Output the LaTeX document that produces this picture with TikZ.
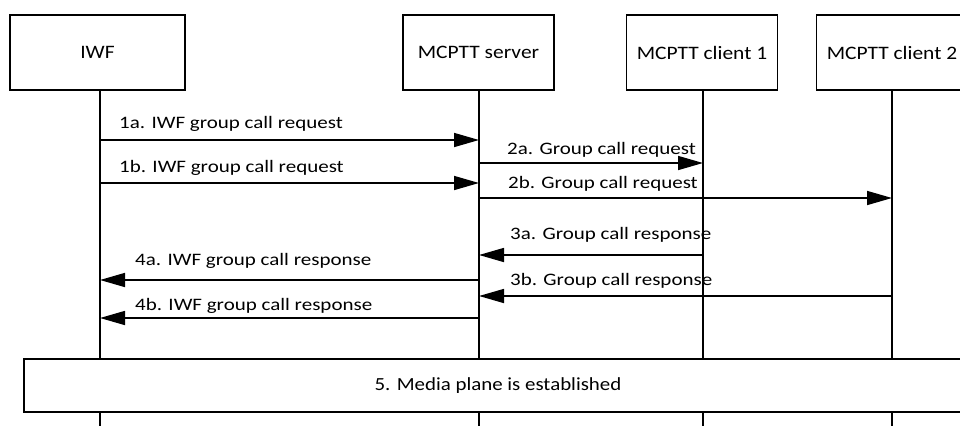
\documentclass[tikz,border=0pt]{standalone}
\usepackage{fontspec}
\setmainfont{Carlito}
\newfontfamily\lblfont[FakeStretch=1.2]{Carlito}
\newfontfamily\boxfont[FakeStretch=1.13]{Carlito}
\usetikzlibrary{arrows.meta}
\tikzset{
  entity/.style={draw, line width=1.3pt, minimum width=151pt, minimum height=75pt, inner sep=0pt, font=\boxfont\fontsize{19}{21}\selectfont},
  life/.style={line width=1.3pt},
  msg/.style={line width=1.6pt, -{Triangle[length=25pt,width=14pt]}},
  lbl/.style={inner sep=0pt, font=\lblfont\fontsize{17.5}{19}\selectfont},
  bar/.style={draw, line width=1.3pt, minimum height=53pt, inner sep=0pt, font=\boxfont\fontsize{18.5}{20}\selectfont}
}
\begin{document}
\begin{tikzpicture}[x=1pt,y=-1pt]
\useasboundingbox (0,0) rectangle (960,426);
\clip (0,0) rectangle (960,426);
% entities
\node[entity, minimum width=175pt] (iwf) at (97.5,52.5) {IWF};
\node[entity] (srv) at (478.5,52.5) {MCPTT server};
\node[entity] (c1) at (702,52.5) {MCPTT client 1};
\node[entity] (c2) at (892,52.5) {MCPTT client 2};
% lifeline ends
\coordinate (iwfE) at (100,426);
\coordinate (srvE) at (479,426);
\coordinate (c1E) at (703,426);
\coordinate (c2E) at (892,426);
\draw[life] (iwfE |- iwf.south) -- (iwfE);
\draw[life] (srvE |- srv.south) -- (srvE);
\draw[life] (c1E |- c1.south) -- (c1E);
\draw[life] (c2E |- c2.south) -- (c2E);
% media bar
\node[bar, minimum width=948pt, fill=white] (media) at (498,385.5) {5. Media plane is established};
% message points
\coordinate (m1aS) at (100,140); \coordinate (m1aE) at (479,140);
\coordinate (m1bS) at (100,183); \coordinate (m1bE) at (479,183);
\coordinate (m2aS) at (479,163); \coordinate (m2aE) at (703,163);
\coordinate (m2bS) at (479,198); \coordinate (m2bE) at (892,198);
\coordinate (m3aS) at (703,255); \coordinate (m3aE) at (479,255);
\coordinate (m4aS) at (479,280); \coordinate (m4aE) at (100,280);
\coordinate (m3bS) at (892,296); \coordinate (m3bE) at (479,296);
\coordinate (m4bS) at (479,318); \coordinate (m4bE) at (100,318);
\draw[msg] (m1aS) -- (m1aE);
\draw[msg] (m1bS) -- (m1bE);
\draw[msg] (m2aS) -- (m2aE);
\draw[msg] (m2bS) -- (m2bE);
\draw[msg] (m3aS) -- (m3aE);
\draw[msg] (m4aS) -- (m4aE);
\draw[msg] (m3bS) -- (m3bE);
\draw[msg] (m4bS) -- (m4bE);
% labels
\node[lbl, anchor=base west] (l1a) at (119,128) {1a. IWF group call request};
\node[lbl, anchor=base west] (l1b) at (119,172) {1b. IWF group call request};
\node[lbl, anchor=base west] (l2a) at (507,154) {2a. Group call request};
\node[lbl, anchor=base west] (l2b) at (508,188) {2b. Group call request};
\node[lbl, anchor=base west] (l3a) at (510,239) {3a. Group call response};
\node[lbl, anchor=base west] (l4a) at (135,265) {4a. IWF group call response};
\node[lbl, anchor=base west] (l3b) at (510,285) {3b. Group call response};
\node[lbl, anchor=base west] (l4b) at (135,310) {4b. IWF group call response};
\end{tikzpicture}
\end{document}
